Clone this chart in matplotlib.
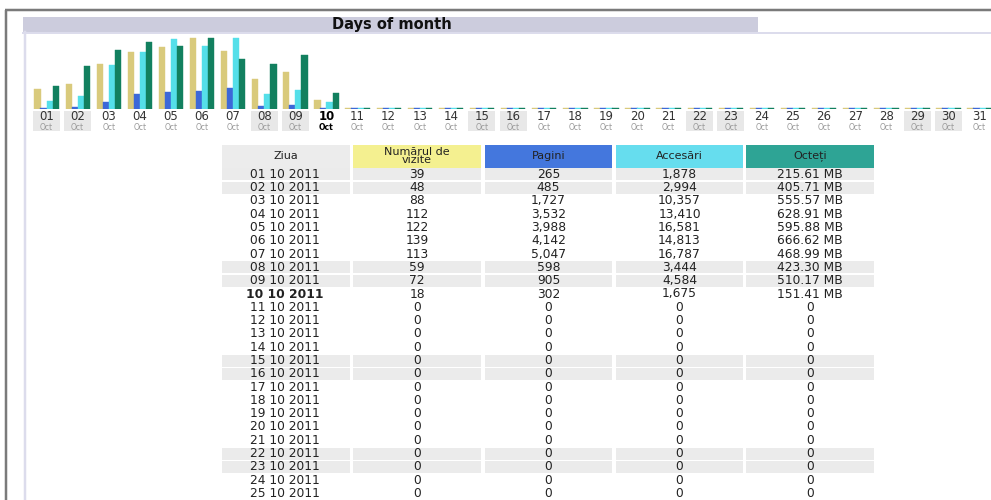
import matplotlib
matplotlib.use("Agg")
import matplotlib.pyplot as plt
from matplotlib.patches import Rectangle
import numpy as np

# ---------------- data ----------------
days = list(range(1, 32))
day_labels = [f"{d:02d}" for d in days]
month_label = "Oct"
weekend_days = [1, 2, 8, 9, 15, 16, 22, 23, 29, 30]
today = 10
visits = [39, 48, 88, 112, 122, 139, 113, 59, 72, 18] + [0] * 21
pages = [265, 485, 1727, 3532, 3988, 4142, 5047, 598, 905, 302] + [0] * 21
hits = [1878, 2994, 10357, 13410, 16581, 14813, 16787, 3444, 4584, 1675] + [0] * 21
bytes_mb = [215.61, 405.71, 555.57, 628.91, 595.88, 666.62, 468.99, 423.30, 510.17, 151.41] + [0] * 21
col_headers = ["Ziua", "Numărul de\nvizite", "Pagini", "Accesări", "Octeți"]
table_days_shown = 25
title = "Days of month"

# ---------------- style ----------------
C_VIS = "#d9ca7c"
C_PAG = "#3d68d8"
C_HIT = "#55dfe9"
C_BYT = "#12805f"
H_COLS = ["#ececec", "#f4f090", "#4477dd", "#66ddee", "#2ea495"]
W, H = 991, 500
fig = plt.figure(figsize=(W / 100, H / 100), dpi=100)
fig.patch.set_facecolor("white")

# overlay in pixel coordinates
ov = fig.add_axes([0, 0, 1, 1])
ov.set_xlim(0, W)
ov.set_ylim(H, 0)
ov.axis("off")

def px(v):
    return v / 1.389

# outer frame
ov.plot([5, W], [10, 10], color="#7a7a7a", lw=px(2.5), solid_capstyle="butt")
ov.plot([5.5, 5.5], [10, H], color="#7a7a7a", lw=px(2.5), solid_capstyle="butt")
# title bar and lavender box
ov.add_patch(Rectangle((23, 17), 735, 15, facecolor="#ccccdd", edgecolor="none"))
ov.plot([23, W], [32.5, 32.5], color="#dcdcec", lw=px(2))
ov.plot([24.5, 24.5], [32, H], color="#dcdcec", lw=px(2.5))
ov.text(392, 24.5, title, ha="center", va="center", fontsize=10.5,
        fontweight="bold", color="#111111", family="DejaVu Sans")

# ---------------- bar chart ----------------
x0, pitch = 31, 31.1
xl = (0.5, 0.5 + (W - x0) / pitch)
base_y, top_y, full = 109, 36, 71
axb = fig.add_axes([x0 / W, 1 - base_y / H, (W - x0) / W, (base_y - top_y) / H])
axb.set_xlim(*xl)
axb.set_ylim(0, (base_y - top_y) / full)
axb.axis("off")
axb.patch.set_alpha(0)

d = np.array(days, dtype=float)
mh = max(hits)
series = [
    (np.array(visits) / max(visits), C_VIS),
    (np.array(pages) / mh, C_PAG),
    (np.array(hits) / mh, C_HIT),
    (np.array(bytes_mb) / max(bytes_mb), C_BYT),
]
bw = 6.2 / pitch
offs = [-0.29, -0.095, 0.1, 0.295]
minh = 1.3 / full
for (vals, col), o in zip(series, offs):
    axb.bar(d + o, np.maximum(vals, minh), width=bw, color=col,
            edgecolor=col, linewidth=0.3)

# day labels
axl = fig.add_axes([x0 / W, 1 - 131 / H, (W - x0) / W, 20 / H])
axl.set_xlim(*xl)
axl.set_ylim(1, 0)
axl.axis("off")
axl.patch.set_alpha(0)
axl.bar(weekend_days, 1, bottom=0, width=27 / pitch, color="#e8e8e8", align="center")
for dd, lab in zip(days, day_labels):
    is_today = dd == today
    axl.text(dd, 0.3, lab, ha="center", va="center", fontsize=8.5,
             fontweight="bold" if is_today else "normal",
             color="#000000" if is_today else "#333333")
    axl.text(dd, 0.8, month_label, ha="center", va="center", fontsize=5.5,
             fontweight="bold" if is_today else "normal",
             color="#000000" if is_today else "#999999")

# ---------------- table ----------------
cols_x = [(222, 350), (353, 481), (485, 612), (616, 743), (746, 874)]
hdr_top, hdr_bot = 145, 168
for (a, b), hc, ht in zip(cols_x, H_COLS, col_headers):
    ov.add_patch(Rectangle((a, hdr_top), b - a, hdr_bot - hdr_top,
                           facecolor=hc, edgecolor="none"))
    ov.text((a + b) / 2, (hdr_top + hdr_bot) / 2 - 0.5, ht, ha="center", va="center",
            fontsize=8, color="#222222", linespacing=0.85)

row0, rpitch = 174.3, 13.3

def fmt_int(v):
    return f"{v:,}"

def fmt_mb(v):
    return f"{v:.2f} MB" if v > 0 else "0"

for i, dd in enumerate(days[:table_days_shown]):
    yc = row0 + i * rpitch
    if dd in weekend_days:
        for a, b in cols_x:
            ov.add_patch(Rectangle((a, yc - 6), b - a, 12, facecolor="#ebebeb",
                                   edgecolor="none"))
    cells = [f"{dd:02d} 10 2011", str(visits[i]), fmt_int(pages[i]),
             fmt_int(hits[i]), fmt_mb(bytes_mb[i])]
    for j, ((a, b), txt) in enumerate(zip(cols_x, cells)):
        bold = (j == 0 and dd == today)
        ov.text((a + b) / 2 + (0 if j else -1), yc, txt, ha="center",
                va="center", fontsize=8.8, color="#222222",
                fontweight="bold" if bold else "normal", clip_on=True)

fig.savefig("out.png", dpi=100)
